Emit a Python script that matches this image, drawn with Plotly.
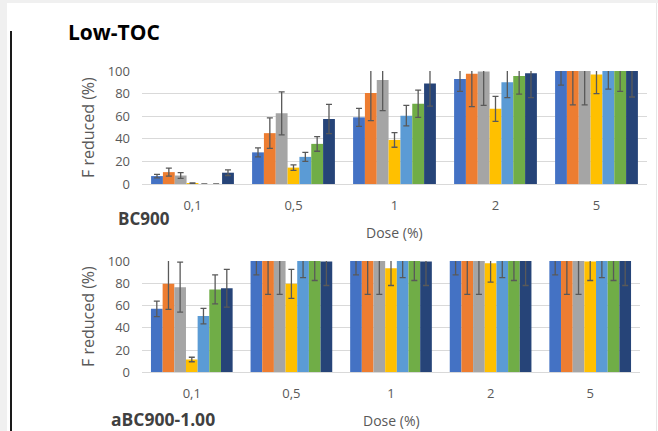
import plotly.graph_objects as go

W, H = 658, 431

categories = ["0,1", "0,5", "1", "2", "5"]
series_names = ["S1", "S2", "S3", "S4", "S5", "S6", "S7"]
colors = ["#4472C4", "#ED7D31", "#A5A5A5", "#FFC000", "#5B9BD5", "#70AD47", "#264478"]

# BC900 (top panel): values per series across doses
bc900_s1 = [7, 28, 59, 93, 100]
bc900_s2 = [10.5, 45, 80.5, 97.5, 100]
bc900_s3 = [7.5, 62.5, 92, 99.5, 100]
bc900_s4 = [0.5, 14.5, 39, 66.5, 97]
bc900_s5 = [0, 24, 60.5, 90, 100]
bc900_s6 = [0, 35.5, 71, 95.5, 100]
bc900_s7 = [10, 57.5, 89, 98, 100]
bc900_e1 = [1.5, 4, 8, 11, 12.5]
bc900_e2 = [3.5, 13.5, 24.5, 29, 30]
bc900_e3 = [2.5, 19, 27, 30, 30]
bc900_e4 = [0.4, 2.5, 6.5, 11, 17]
bc900_e5 = [None, 4, 9, 13.5, 16]
bc900_e6 = [None, 6.5, 12, 16, 18]
bc900_e7 = [2.5, 13, 20, 21.5, 23]

# aBC900-1.00 (bottom panel)
abc_s1 = [57, 100, 100, 100, 100]
abc_s2 = [79.5, 100, 100, 100, 100]
abc_s3 = [76.5, 100, 100, 100, 100]
abc_s4 = [11.5, 79.5, 93.5, 98, 99.5]
abc_s5 = [50.5, 100, 100, 100, 100]
abc_s6 = [74.5, 100, 100, 100, 100]
abc_s7 = [75.5, 99.5, 99.5, 100, 100]
abc_e1 = [7, 12.5, 12.5, 12.5, 12.5]
abc_e2 = [23, 30, 30, 30, 30]
abc_e3 = [22.5, 30, 30, 30, 30]
abc_e4 = [2, 13, 15.5, 17, 17]
abc_e5 = [7, 15, 15, 15, 15]
abc_e6 = [13, 17.5, 17.5, 17.5, 17.5]
abc_e7 = [17, 21.5, 21.5, 22, 22]

y_ticks = [0, 20, 40, 60, 80, 100]

top_vals = [bc900_s1, bc900_s2, bc900_s3, bc900_s4, bc900_s5, bc900_s6, bc900_s7]
top_errs = [bc900_e1, bc900_e2, bc900_e3, bc900_e4, bc900_e5, bc900_e6, bc900_e7]
bot_vals = [abc_s1, abc_s2, abc_s3, abc_s4, abc_s5, abc_s6, abc_s7]
bot_errs = [abc_e1, abc_e2, abc_e3, abc_e4, abc_e5, abc_e6, abc_e7]

def px(x):
    return x / W

def py(y):
    return 1 - y / H

fig = go.Figure()
for i in range(7):
    fig.add_trace(go.Bar(
        x=categories, y=top_vals[i], name=series_names[i], marker_color=colors[i],
        marker_line_width=0, xaxis="x", yaxis="y", showlegend=False,
        error_y=dict(type="data", array=top_errs[i], visible=True,
                     color="#595959", thickness=1.3, width=3),
    ))
for i in range(7):
    fig.add_trace(go.Bar(
        x=categories, y=bot_vals[i], name=series_names[i], marker_color=colors[i],
        marker_line_width=0, xaxis="x2", yaxis="y2", showlegend=False,
        error_y=dict(type="data", array=bot_errs[i], visible=True,
                     color="#595959", thickness=1.3, width=3),
    ))

tickfont = dict(family="Open Sans", size=13, color="#595959")
xcommon = dict(type="category", showgrid=False, showline=True, linecolor="#D9D9D9",
               linewidth=1, ticks="", tickfont=tickfont, ticklabelstandoff=9,
               fixedrange=True, automargin=False)
ycommon = dict(range=[0, 100], tickvals=y_ticks, showgrid=True, gridcolor="#D9D9D9",
               gridwidth=1, zeroline=False, showline=False, ticks="", tickfont=tickfont,
               ticklabelstandoff=11, fixedrange=True, automargin=False)

fig.update_layout(
    width=W, height=H, margin=dict(l=0, r=0, t=0, b=0, pad=0), autosize=False,
    paper_bgcolor="white", plot_bgcolor="white",
    barmode="group", bargap=0.18, bargroupgap=0,
    xaxis=dict(domain=[px(142), px(647)], anchor="y", **xcommon),
    yaxis=dict(domain=[py(184), py(71)], anchor="x", **ycommon),
    xaxis2=dict(domain=[px(142), px(640)], anchor="y2", **xcommon),
    yaxis2=dict(domain=[py(372.3), py(261)], anchor="x2", **ycommon),
    font=dict(family="Open Sans"),
)

def ann(text, x, y, size, color, bold=False, xanchor="center", angle=0):
    fig.add_annotation(
        text=("<b>%s</b>" % text) if bold else text, x=px(x), y=py(y),
        xref="paper", yref="paper", showarrow=False, xanchor=xanchor, yanchor="middle",
        textangle=angle, font=dict(family="Open Sans", size=size, color=color),
    )

ann("Low-TOC", 66, 32, 21, "#000000", bold=True, xanchor="left")
ann("BC900", 116, 219, 17, "#404040", bold=True, xanchor="left")
ann("Dose (%)", 394, 232, 14, "#595959")
ann("aBC900-1.00", 109, 419, 17.5, "#404040", bold=True, xanchor="left")
ann("Dose (%)", 391, 420, 14, "#595959")
ann("F reduced (%)", 88, 128, 16, "#595959", angle=-90)
ann("F reduced (%)", 88, 317, 16, "#595959", angle=-90)

shapes = [
    dict(type="rect", xref="paper", yref="paper", x0=0, x1=px(7), y0=0, y1=1,
         fillcolor="#F0F0F0", line_width=0, layer="below"),
    dict(type="rect", xref="paper", yref="paper", x0=0, x1=1, y0=py(3), y1=1,
         fillcolor="#F0F0F0", line_width=0, layer="below"),
    dict(type="line", xref="paper", yref="paper", x0=px(11), x1=px(11), y0=0, y1=py(31),
         line=dict(color="#1A1A1A", width=2)),
    dict(type="line", xref="paper", yref="paper", x0=px(656.5), x1=px(656.5), y0=0, y1=py(3),
         line=dict(color="#E6E6E6", width=1)),
]
fig.update_layout(shapes=shapes)

post = (
    "document.documentElement.style.margin='0';"
    "document.documentElement.style.overflow='hidden';"
    "document.body.style.margin='0';document.body.style.padding='0';"
    "document.body.style.overflow='hidden';"
    "var gd=document.getElementById('{plot_id}');"
    "gd.style.position='fixed';gd.style.left='0px';gd.style.top='0px';"
)

fig.write_html("out.html", config={"displayModeBar": False}, post_script=post)
